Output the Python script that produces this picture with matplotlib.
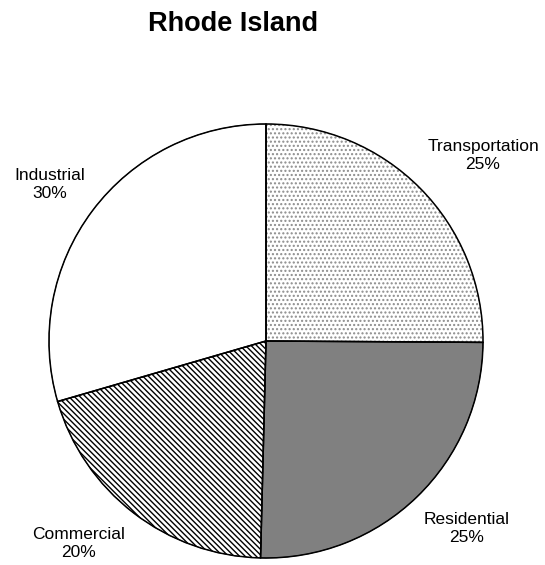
import numpy as np
import matplotlib.pyplot as plt

plt.rcParams['font.family'] = ['Liberation Sans', 'DejaVu Sans']

title = 'Rhode Island'
sectors = ['Transportation', 'Residential', 'Commercial', 'Industrial']
shares = [25.1, 25.3, 20.1, 29.5]
fills = ['white', '#808080', 'white', 'white']
hatches = ['....', '', '\\\\\\\\\\\\', '']
hatch_edges = ['#8c8c8c', 'black', 'black', 'black']
# label centres, in units of the pie radius
label_xy = [(1.0, 0.857), (0.926, -0.866), (-0.862, -0.931), (-0.995, 0.719)]

fig = plt.figure(figsize=(5.45, 5.65), dpi=100)
ax = fig.add_axes([49 / 545, 7 / 565, 434 / 545, 434 / 565])

# fills and hatching
wedges, _ = ax.pie(shares, startangle=90, counterclock=False, colors=fills,
                   radius=1.0, wedgeprops=dict(linewidth=0.5))
for w, h, ec in zip(wedges, hatches, hatch_edges):
    w.set_hatch(h)
    w.set_edgecolor(ec)

# black outlines on top
ax.pie(shares, startangle=90, counterclock=False, radius=1.0,
       wedgeprops=dict(facecolor='none', edgecolor='black', linewidth=1.1))

total = sum(shares)
for (x, y), name, v in zip(label_xy, sectors, shares):
    ax.text(x, y, f'{name}\n{v / total * 100:.0f}%', ha='center', va='center',
            fontsize=12.5, linespacing=1.25)

ax.set_xlim(-1, 1)
ax.set_ylim(-1, 1)
ax.set_aspect('equal')
ax.axis('off')

fig.text(0.428, 0.958, title, ha='center', va='center', fontsize=19.5, fontweight='bold')

plt.savefig('out.png', dpi=100)
